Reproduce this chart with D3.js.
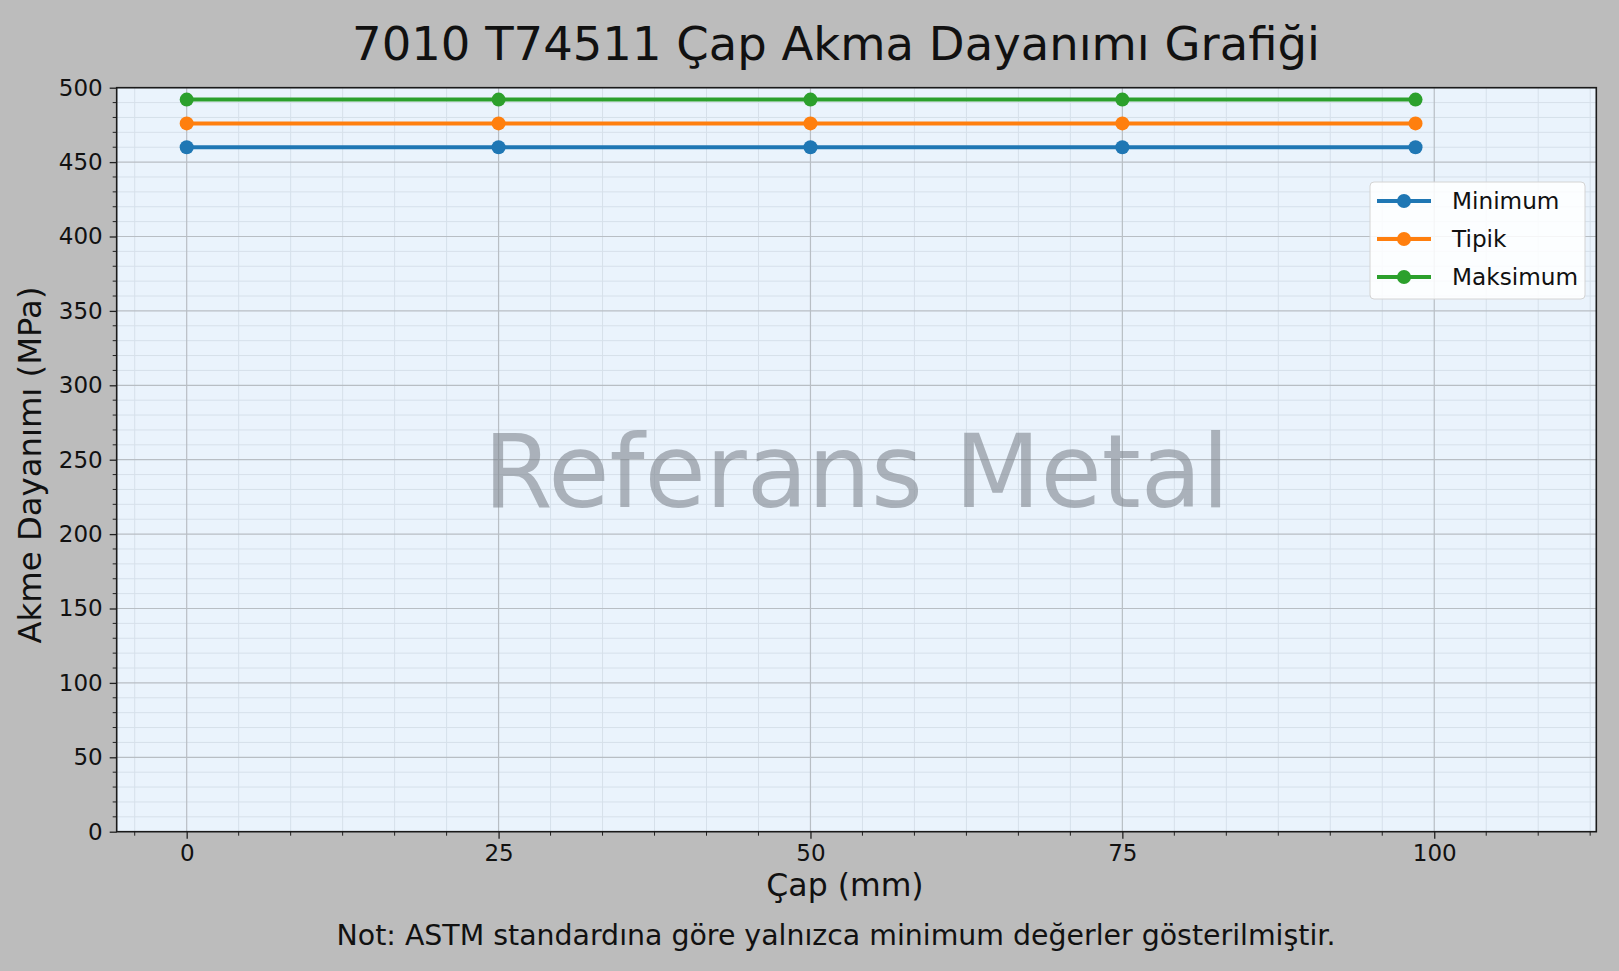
<!DOCTYPE html>
<html>
<head>
<meta charset="utf-8">
<script src="https://cdn.jsdelivr.net/npm/d3@7"></script>
<style>
  body { margin: 0; background: #bcbcbc; }
  text { font-family: "DejaVu Sans", sans-serif; }
</style>
</head>
<body>
<div id="graph"></div>
<script>
// data
var diameters = [0, 25, 50, 75, 98.5];
var minimumValues = [460, 460, 460, 460, 460];
var typicalValues = [476, 476, 476, 476, 476];
var maximumValues = [492, 492, 492, 492, 492];
var seriesNames = ["Minimum", "Tipik", "Maksimum"];
var seriesColors = ["#1f77b4", "#ff7f0e", "#2ca02c"];
var xTickValues = [0, 25, 50, 75, 100];
var yTickValues = [0, 50, 100, 150, 200, 250, 300, 350, 400, 450, 500];

var titleText = "7010 T74511 Çap Akma Dayanımı Grafiği";
var xLabelText = "Çap (mm)";
var yLabelText = "Akme Dayanımı (MPa)";
var noteText = "Not: ASTM standardına göre yalnızca minimum değerler gösterilmiştir.";
var watermarkText = "Referans Metal";

function init(){

    var fullW = 1619, fullH = 971;
    var margin = {top: 87.7, right: 22.7, bottom: 139.3, left: 116.7};
    var width = fullW - margin.left - margin.right;
    var height = fullH - margin.top - margin.bottom;

    var root = d3.select('#graph')
    .append('svg')
        .attr("width", fullW)
        .attr("height", fullH);

    root.append("rect")
        .attr("width", fullW)
        .attr("height", fullH)
        .attr("fill", "#bcbcbc");

    var svg = root.append("g")
        .attr("transform", "translate(" + margin.left + "," + margin.top + ")");

    // plot background
    svg.append("rect")
        .attr("width", width)
        .attr("height", height)
        .attr("fill", "#eaf3fc");

    var x = d3.scaleLinear()
        .domain([-5.61, 112.99])
        .range([0, width]);
    var y = d3.scaleLinear()
        .domain([0, 500])
        .range([height, 0]);

    // minor positions
    var xStep = 25 / 6;
    var xMinor = d3.range(Math.ceil(x.domain()[0] / xStep), Math.floor(x.domain()[1] / xStep) + 1)
        .map(function(i){ return i * xStep; })
        .filter(function(v){ return Math.abs(v / 25 - Math.round(v / 25)) > 1e-6; });
    var yMinor = d3.range(0, 501, 10).filter(function(v){ return v % 50 !== 0; });

    // grid: minor then major
    svg.append("g").selectAll("line").data(xMinor).join("line")
        .attr("x1", function(d){ return x(d); }).attr("x2", function(d){ return x(d); })
        .attr("y1", 0).attr("y2", height)
        .attr("stroke", "#d6e0ea").attr("stroke-width", 1);
    svg.append("g").selectAll("line").data(yMinor).join("line")
        .attr("y1", function(d){ return y(d); }).attr("y2", function(d){ return y(d); })
        .attr("x1", 0).attr("x2", width)
        .attr("stroke", "#d6e0ea").attr("stroke-width", 1);
    svg.append("g").selectAll("line").data(xTickValues).join("line")
        .attr("x1", function(d){ return x(d); }).attr("x2", function(d){ return x(d); })
        .attr("y1", 0).attr("y2", height)
        .attr("stroke", "#b8bec4").attr("stroke-width", 1.2);
    svg.append("g").selectAll("line").data(yTickValues).join("line")
        .attr("y1", function(d){ return y(d); }).attr("y2", function(d){ return y(d); })
        .attr("x1", 0).attr("x2", width)
        .attr("stroke", "#b8bec4").attr("stroke-width", 1.2);

    // watermark
    svg.append("text")
        .attr("x", width / 2)
        .attr("y", 507 - margin.top)
        .attr("text-anchor", "middle")
        .attr("font-size", 102)
        .attr("textLength", 746)
        .attr("lengthAdjust", "spacingAndGlyphs")
        .attr("fill", "#7f868e")
        .attr("fill-opacity", 0.6)
        .text(watermarkText);

    // series
    var allSeries = [minimumValues, typicalValues, maximumValues];
    allSeries.forEach(function(vals, i){
        var pts = diameters.map(function(d, j){ return {x: d, y: vals[j]}; });
        svg.append("path")
            .datum(pts)
            .attr("fill", "none")
            .attr("stroke", seriesColors[i])
            .attr("stroke-width", 4)
            .attr("d", d3.line()
              .x(function(d) { return x(d.x) })
              .y(function(d) { return y(d.y) })
            );
        svg.append("g").selectAll("circle").data(pts).join("circle")
            .attr("cx", function(d){ return x(d.x); })
            .attr("cy", function(d){ return y(d.y); })
            .attr("r", 7)
            .attr("fill", seriesColors[i]);
    });

    // axes
    var xAxis = svg.append("g")
        .attr("transform", "translate(0," + height + ")")
        .call(d3.axisBottom(x).tickValues(xTickValues).tickFormat(d3.format("d")).tickSize(7).tickPadding(6));
    var yAxis = svg.append("g")
        .call(d3.axisLeft(y).tickValues(yTickValues).tickFormat(d3.format("d")).tickSize(7).tickPadding(7));
    [xAxis, yAxis].forEach(function(a){
        a.select(".domain").remove();
        a.selectAll("text").attr("font-size", 23).attr("fill", "#111").style("font-family", "DejaVu Sans");
        a.selectAll("line").attr("stroke", "#222").attr("stroke-width", 1.3);
    });
    // minor ticks
    svg.append("g").selectAll("line").data(xMinor).join("line")
        .attr("x1", function(d){ return x(d); }).attr("x2", function(d){ return x(d); })
        .attr("y1", height).attr("y2", height + 4)
        .attr("stroke", "#222").attr("stroke-width", 1);
    svg.append("g").selectAll("line").data(yMinor).join("line")
        .attr("y1", function(d){ return y(d); }).attr("y2", function(d){ return y(d); })
        .attr("x1", 0).attr("x2", -4)
        .attr("stroke", "#222").attr("stroke-width", 1);

    // frame
    svg.append("rect")
        .attr("width", width)
        .attr("height", height)
        .attr("fill", "none")
        .attr("stroke", "#1a1a1a")
        .attr("stroke-width", 1.6);

    // legend
    var lg = svg.append("g")
        .attr("transform", "translate(" + (1370 - margin.left) + "," + (182 - margin.top) + ")");
    lg.append("rect")
        .attr("width", 215)
        .attr("height", 117)
        .attr("rx", 4)
        .attr("fill", "#ffffff")
        .attr("fill-opacity", 0.85)
        .attr("stroke", "#d4d4d4");
    seriesNames.forEach(function(name, i){
        var ly = 19 + i * 38;
        lg.append("line")
            .attr("x1", 7).attr("x2", 61)
            .attr("y1", ly).attr("y2", ly)
            .attr("stroke", seriesColors[i])
            .attr("stroke-width", 4);
        lg.append("circle")
            .attr("cx", 34).attr("cy", ly).attr("r", 7)
            .attr("fill", seriesColors[i]);
        lg.append("text")
            .attr("x", 82)
            .attr("y", ly)
            .attr("dy", "0.36em")
            .attr("font-size", 23.2)
            .attr("fill", "#111")
            .text(name);
    });

    // title
    root.append("text")
        .attr("x", 836)
        .attr("y", 60)
        .attr("text-anchor", "middle")
        .attr("font-size", 46.5)
        .attr("fill", "#111")
        .text(titleText);

    // X axis name
    root.append("text")
        .attr("x", 845)
        .attr("y", 896)
        .attr("text-anchor", "middle")
        .attr("font-size", 31.5)
        .attr("fill", "#111")
        .text(xLabelText);

    // Y axis name
    root.append("text")
        .attr("transform", "translate(41,465) rotate(-90)")
        .attr("text-anchor", "middle")
        .attr("font-size", 32.3)
        .attr("fill", "#111")
        .text(yLabelText);

    // note
    root.append("text")
        .attr("x", 836)
        .attr("y", 945)
        .attr("text-anchor", "middle")
        .attr("font-size", 28.4)
        .attr("fill", "#111")
        .text(noteText);
}

init();
</script>
</body>
</html>
